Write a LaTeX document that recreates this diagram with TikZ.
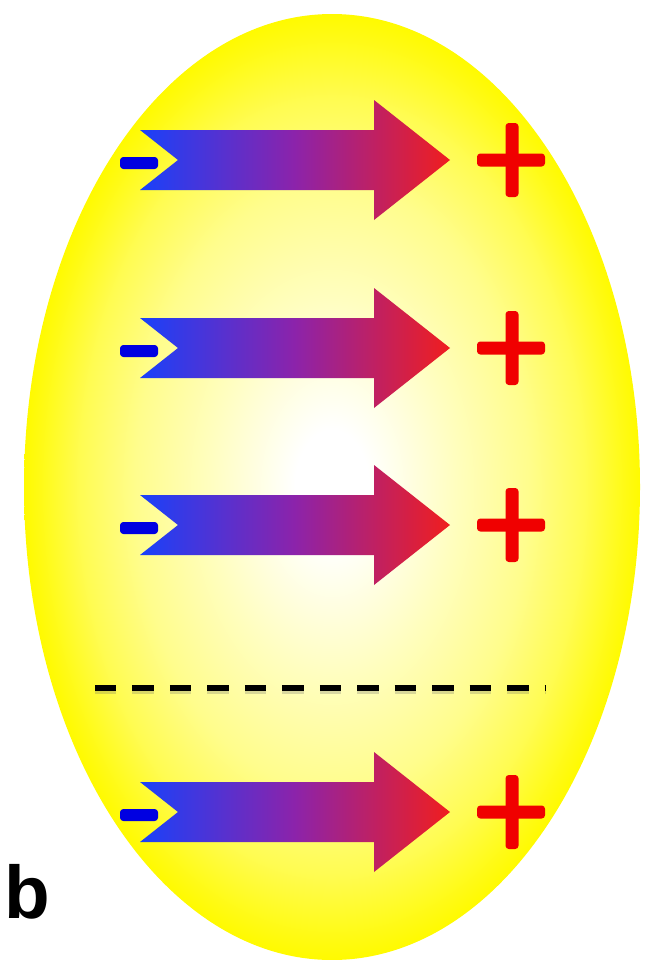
\documentclass[tikz,border=0pt]{standalone}
\usepackage{fontspec}
\setsansfont{Liberation Sans}
\definecolor{eggyellow}{RGB}{255,250,0}
\definecolor{arrblue}{RGB}{25,65,250}
\definecolor{arrpurple}{RGB}{140,35,170}
\definecolor{arrred}{RGB}{240,30,30}
\definecolor{minusblue}{RGB}{0,0,225}
\definecolor{plusred}{RGB}{240,0,0}
\pgfdeclareradialshading{eggshade}{\pgfpoint{0bp}{0bp}}{%
  color(0bp)=(white);
  color(3bp)=(white);
  color(10bp)=(eggyellow!25);
  color(16bp)=(eggyellow!45);
  color(20.5bp)=(eggyellow!68);
  color(23.5bp)=(eggyellow!90);
  color(25bp)=(eggyellow);
  color(50bp)=(eggyellow)}
\tikzset{
  fieldarrow/.style={left color=arrblue, right color=arrred, middle color=arrpurple},
  minusbar/.style={fill=minusblue, rounded corners=2.5pt},
  plusbar/.style={fill=plusred, rounded corners=2.5pt},
  divider/.style={draw=black, line width=3.8pt, dash pattern=on 16.1pt off 12pt},
  dividershadow/.style={draw=black!60, opacity=0.25, line width=4pt, dash pattern=on 16.1pt off 12pt},
  panellabel/.style={font=\fontsize{56}{56}\selectfont\sffamily\bfseries, inner sep=0pt, anchor=base west}
}
\begin{document}
\begin{tikzpicture}[x=0.75pt, y=-0.75pt]
\useasboundingbox (0,0) rectangle (646,960);
% egg
\shade[shading=eggshade] (332,487) ellipse [x radius=308, y radius=473];
% arrows
\foreach \yc in {160,348,525,812} {
  \shade[fieldarrow] (140,\yc-30) -- (374,\yc-30) -- (374,\yc-60) -- (450,\yc) -- (374,\yc+60) -- (374,\yc+30) -- (140,\yc+30) -- (178,\yc) -- cycle;
  \fill[minusbar] (120,\yc-3) rectangle (158,\yc+9);
  \fill[plusbar] (505.5,\yc-37) rectangle (518.5,\yc+37);
  \fill[plusbar] (477,\yc-6.5) rectangle (545,\yc+6.5);
}
% dashed divider
\coordinate (dl) at (95,688);
\coordinate (dr) at (546,688);
\draw[dividershadow] ([yshift=-2.5pt]dl) -- ([yshift=-2.5pt]dr);
\draw[divider] (dl) -- (dr);
% label
\node[panellabel] (lab) at (4,918) {b};
\end{tikzpicture}
\end{document}
